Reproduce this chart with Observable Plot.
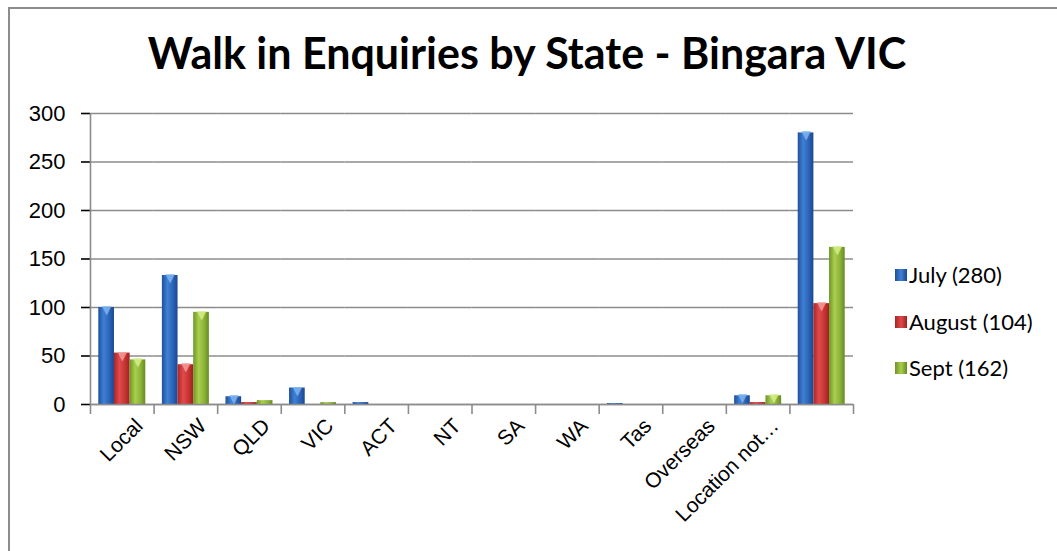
<!DOCTYPE html>
<html>
<head>
<meta charset="utf-8">
<script src="https://cdn.jsdelivr.net/npm/d3@7"></script>
<script src="https://cdn.jsdelivr.net/npm/@observablehq/plot@0.6"></script>
<style>
  html, body { margin: 0; padding: 0; background: #fff; }
  #wrap { position: relative; width: 1057px; height: 551px; overflow: hidden; }
  #border { position: absolute; left: 8px; top: 7px; width: 1100px; height: 600px;
            border-left: 2px solid #8c8c8c; border-top: 2px solid #8c8c8c; }
  #title { position: absolute; left: 527px; top: 32px; transform: translateX(-50%);
           font-family: Lato, "Open Sans", sans-serif; font-weight: 700; font-size: 43px; line-height: 42px;
           color: #000; white-space: nowrap; }
  #legend { position: absolute; left: 895px; top: 0; font-family: Lato, "Open Sans", sans-serif;
            font-size: 22px; color: #000; }
  .li { position: absolute; left: 0; display: flex; align-items: center; height: 24px; line-height: 24px; white-space: nowrap; }
  .sw { width: 12px; height: 12px; margin-right: 2px; }
  #chart { position: absolute; left: 0; top: 0; }
  #chart svg g[aria-label="y-axis tick label"] text { font-size: 22px; }
</style>
</head>
<body>
<div id="wrap">
  <div id="chart"></div>
  <div id="border"></div>
  <div id="title">Walk in Enquiries by State - Bingara VIC</div>
  <div id="legend"></div>
</div>
<script>
// ---- data ----
const categories = ["Local", "NSW", "QLD", "VIC", "ACT", "NT", "SA", "WA", "Tas", "Overseas", "Location not…", "Total"];
const tickLabels = ["Local", "NSW", "QLD", "VIC", "ACT", "NT", "SA", "WA", "Tas", "Overseas", "Location not…", ""];
const seriesNames = ["July (280)", "August (104)", "Sept (162)"];
const july   = [100, 133, 8, 17, 2, 0, 0, 0, 1, 0, 9, 280];
const august = [53, 41, 2, 0, 0, 0, 0, 0, 0, 0, 2, 104];
const sept   = [46, 95, 4, 2, 0, 0, 0, 0, 0, 0, 9, 162];
const yTicks = [0, 50, 100, 150, 200, 250, 300];

const seriesValues = [july, august, sept];
const gradIds = ["gJuly", "gAug", "gSept"];
const gradStops = [
  ["#1f4f9c", "#3f80d4", "#2a64b8", "#1b4690"],
  ["#a82626", "#e04a4a", "#c83434", "#9c2222"],
  ["#6f9426", "#a9cf4c", "#8cb43a", "#678a22"]
];
const capColors = ["#7db3ee", "#f29a9a", "#d4ee8a"];

const data = [];
categories.forEach((c, i) => {
  seriesNames.forEach((s, j) => data.push({cat: c, series: s, value: seriesValues[j][i], cap: capColors[j]}));
});
const labelData = categories.map((c, i) => ({cat: c, label: tickLabels[i]}));

// ---- layout ----
const W = 1057, H = 551;
const mL = 90, mR = 204, mT = 113, mB = 147;
const innerW = W - mL - mR;
const facetStep = innerW / categories.length;
const padOuter = 0.53;
const xStep = facetStep / (seriesNames.length + 2 * padOuter);
const leftOffset = -(padOuter * xStep + xStep / 2);   // from center of first band to facet's left edge
const yPx = (H - mT - mB) / 300;
const tickLen = 10 / yPx;

const boundaries = categories.map((c, i) => ({cat: c, y1: -tickLen, y2: i === 0 ? 300 : 0}));
const lastCat = categories[categories.length - 1];

const svg = Plot.plot({
  width: W, height: H,
  marginLeft: mL, marginRight: mR, marginTop: mT, marginBottom: mB,
  style: {fontFamily: "'Liberation Sans', Arial, sans-serif", fontSize: "18px", color: "#000", background: "transparent"},
  fx: {domain: categories, padding: 0, round: false, axis: null, label: null},
  x: {domain: seriesNames, paddingInner: 0, paddingOuter: padOuter, round: false, axis: null},
  y: {domain: [0, 300], ticks: yTicks, tickSize: 9, tickPadding: 16, label: null},
  color: {domain: seriesNames, range: gradIds.map(id => `url(#${id})`)},
  marks: [
    Plot.ruleY(yTicks, {stroke: "#8c8c8c", strokeWidth: 1.6}),
    Plot.barY(data, {fx: "cat", x: "series", y: "value", fill: "series", inset: 0}),
    Plot.text(data.filter(d => d.value >= 5), {fx: "cat", x: "series", y: "value", text: () => "▼",
      fill: "cap", fontSize: 12, lineAnchor: "top", dy: -2, fontFamily: "DejaVu Sans", fillOpacity: 0.9}),
    Plot.ruleX(boundaries, {fx: "cat", x: () => seriesNames[0], y1: "y1", y2: "y2", dx: leftOffset, stroke: "#8c8c8c", strokeWidth: 1.6}),
    Plot.ruleX([{cat: lastCat}], {fx: "cat", x: () => seriesNames[seriesNames.length - 1], y1: -tickLen, y2: 0, dx: -leftOffset, stroke: "#8c8c8c", strokeWidth: 1.6}),
    Plot.ruleY([0], {stroke: "#8c8c8c", strokeWidth: 1.6}),
    Plot.text(labelData, {fx: "cat", text: "label", frameAnchor: "bottom", rotate: -45, textAnchor: "end",
      lineAnchor: "middle", dx: 17, dy: 18, fontSize: 21, fill: "#000"})
  ]
});

const defs = d3.select(svg).insert("defs", ":first-child");
gradIds.forEach((id, k) => {
  const g = defs.append("linearGradient").attr("id", id).attr("x1", 0).attr("x2", 1).attr("y1", 0).attr("y2", 0);
  const st = gradStops[k];
  [[0, st[0]], [0.35, st[1]], [0.7, st[2]], [1, st[3]]].forEach(([o, c]) =>
    g.append("stop").attr("offset", o).attr("stop-color", c));
});
d3.select(svg).selectAll("g[aria-label='y-axis tick']").attr("stroke", "#8c8c8c").attr("stroke-width", 1.6);

document.getElementById("chart").appendChild(svg);

// legend
const legend = d3.select("#legend");
const legendCenters = [275, 322, 368];
seriesNames.forEach((s, k) => {
  const row = legend.append("div").attr("class", "li").style("top", (legendCenters[k] - 12) + "px");
  row.append("div").attr("class", "sw").style("background", `linear-gradient(to right, ${gradStops[k][0]}, ${gradStops[k][1]}, ${gradStops[k][3]})`);
  row.append("span").text(s);
});
</script>
</body>
</html>
